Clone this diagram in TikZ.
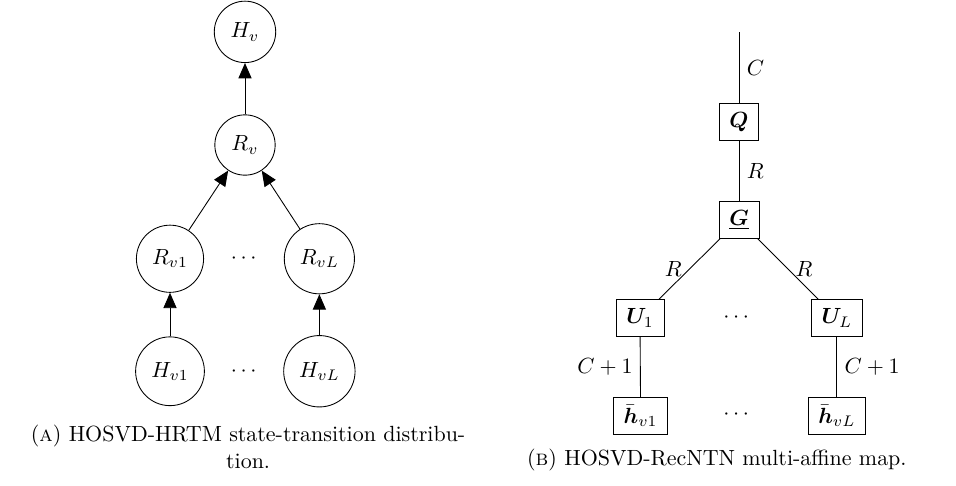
\documentclass[tikz,border=0pt]{standalone}
\usepackage{amsmath}
\usepackage{amssymb}
\usepackage{bm}
\usepackage{tikz}
\usetikzlibrary{arrows.meta}

\begin{document}
\begin{tikzpicture}[
mycirc/.style={
  draw,
  circle,
  minimum size=0.93cm,
  inner sep=4.5pt
  },
mybox/.style={
  draw,
  minimum size=0.58cm,
  inner xsep=4.7pt,
  inner ysep=3.3pt
  },
mycap/.style={
  align=center,
  font=\fontsize{10}{12.3}\selectfont
  },
every edge/.append style={-{Triangle[length=7pt,width=6pt]}}
]
\useasboundingbox (0,0) rectangle (15.296,-7.76);
% (a) state-transition distribution
\node[mycirc] (hv) at (3.92,-0.51) {$H_v$};
\node[mycirc] (rv) at (3.92,-2.32) {$R_v$};
\node[mycirc] (rv1) at (2.72,-4.14) {$R_{v1}$};
\node[mycirc] (rvL) at (5.11,-4.14) {$R_{vL}$};
\node[mycirc] (hv1) at (2.72,-5.94) {$H_{v1}$};
\node[mycirc] (hvL) at (5.11,-5.94) {$H_{vL}$};
\node (dr) at (3.93,-4.14) {$\cdots$};
\node (dh) at (3.93,-5.94) {$\cdots$};
\path
	(rv) edge (hv)
	(rv1) edge (rv)
	(rvL) edge (rv)
	(hv1) edge (rv1)
	(hvL) edge (rvL);
\node[mycap] (capa) at (3.97,-7.144) {(\textsc{a}) HOSVD-HRTM state-transition distribu-\\tion.};
% (b) multi-affine map
\coordinate (top) at (11.824,-0.512);
\node[mybox] (q) at (11.824,-1.952) {$\bm{Q}$};
\node[mybox] (g) at (11.824,-3.52) {$\underline{\bm{G}}$};
\node[mybox] (u1) at (10.24,-5.088) {$\bm{U}_1$};
\node[mybox] (uL) at (13.39,-5.088) {$\bm{U}_L$};
\node[mybox] (h1) at (10.25,-6.656) {$\bar{\bm{h}}_{v1}$};
\node[mybox] (hL) at (13.39,-6.656) {$\bar{\bm{h}}_{vL}$};
\node (du) at (11.81,-5.088) {$\cdots$};
\node (dhb) at (11.81,-6.64) {$\cdots$};
\draw (top) -- node[right] {$C$} (q);
\draw (q) -- node[right] {$R$} (g);
\draw (g) -- node[midway,left] {$R$} (u1);
\draw (g) -- node[midway,right] {$R$} (uL);
\draw (u1) -- node[left] {$C+1$} (h1);
\draw (uL) -- node[right] {$C+1$} (hL);
\node[mycap] (capb) at (11.47,-7.36) {(\textsc{b}) HOSVD-RecNTN multi-affine map.};
\end{tikzpicture}
\end{document}
